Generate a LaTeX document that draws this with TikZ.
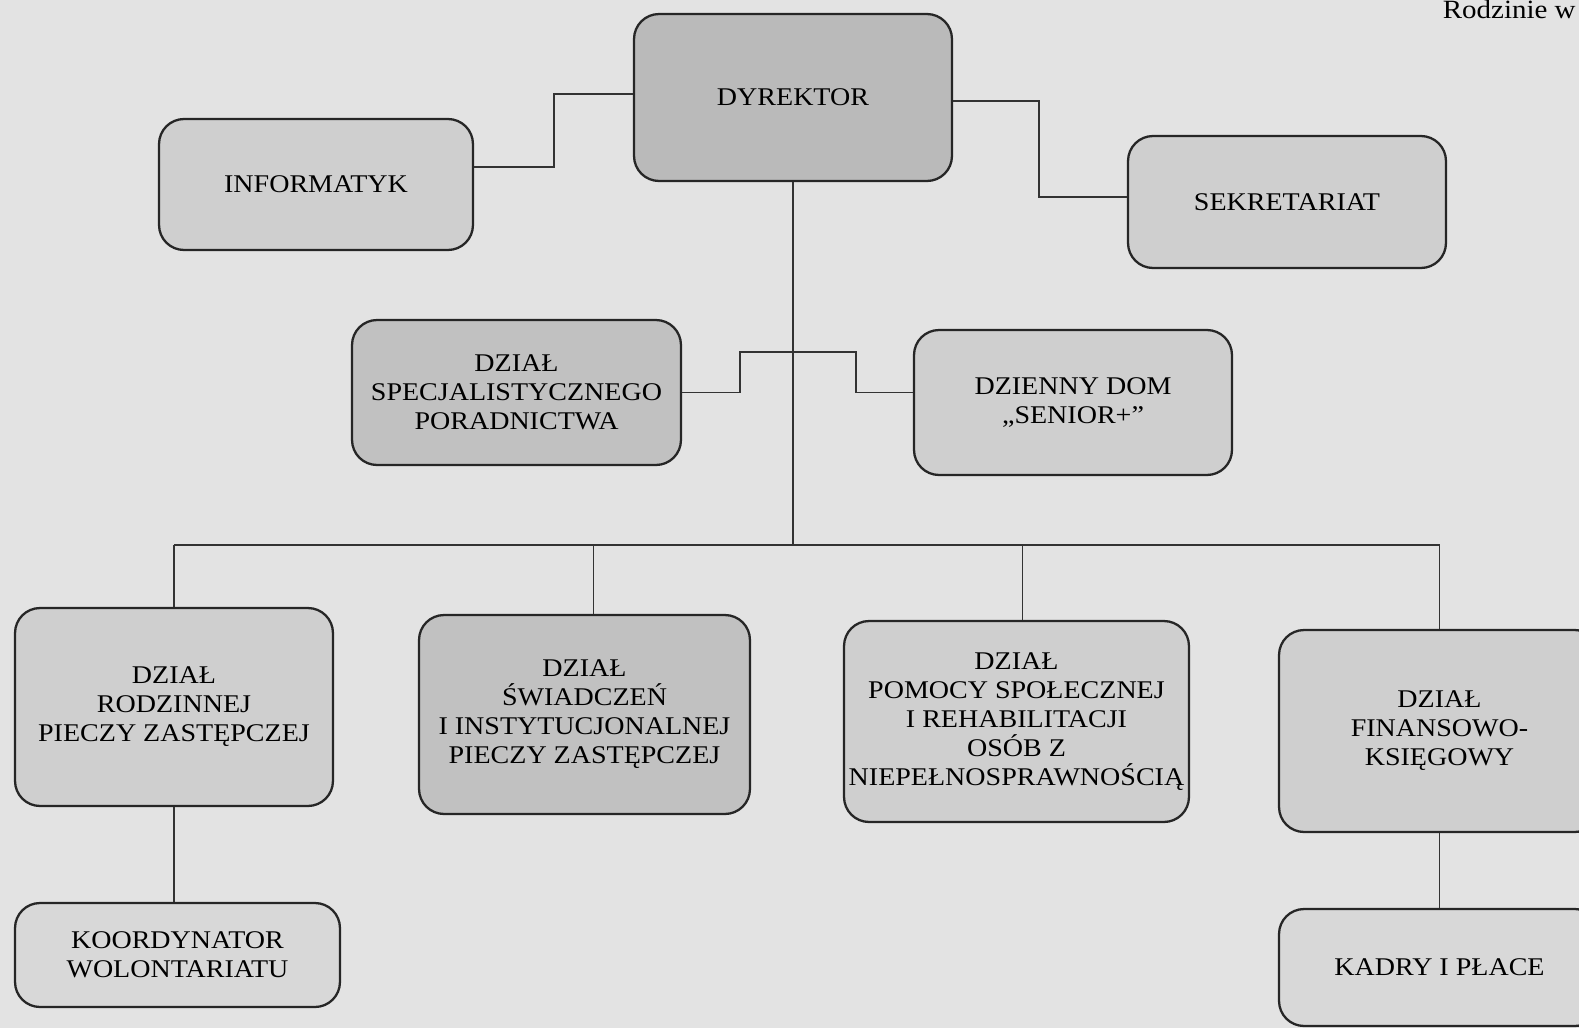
\documentclass[tikz,border=0pt]{standalone}
\usepackage{fontspec}
\setmainfont{Liberation Serif}[FakeStretch=1.1]
\definecolor{bgc}{gray}{0.89}
\definecolor{boxc}{gray}{0.81}
\definecolor{boxd}{gray}{0.73}
\begin{document}
\begin{tikzpicture}[x=0.02cm,y=-0.02cm,
  box/.style={draw=black!85, line width=1.3pt, rounded corners=0.5cm, fill=boxc,
    align=center, font=\fontsize{14.5}{16.5}\selectfont, inner sep=0pt},
  conn/.style={draw=black!80, line width=0.7pt}]
\useasboundingbox (0,0) rectangle (1579,1028);
\fill[bgc] (0,0) rectangle (1579,1028);
\node[anchor=base east, font=\fontsize{15}{17}\selectfont, inner sep=0pt] (hdr) at (1576,18) {Rodzinie w};
% boxes
\node[box, fill=boxd, minimum width=6.36cm, minimum height=3.34cm] (dyr) at (793,97.5) {DYREKTOR};
\node[box, minimum width=6.28cm, minimum height=2.62cm] (inf) at (316,184.5) {INFORMATYK};
\node[box, minimum width=6.36cm, minimum height=2.64cm] (sek) at (1287,202) {SEKRETARIAT};
\node[box, fill=boxd!90, minimum width=6.58cm, minimum height=2.90cm] (spec) at (516.5,392.5) {DZIAŁ\\SPECJALISTYCZNEGO\\PORADNICTWA};
\node[box, minimum width=6.36cm, minimum height=2.90cm] (dom) at (1073,402.5) {DZIENNY DOM\\„SENIOR+”};
\node[box, minimum width=6.36cm, minimum height=3.96cm] (rodz) at (174,707) {DZIAŁ\\RODZINNEJ\\PIECZY ZASTĘPCZEJ};
\node[box, fill=boxd!90, minimum width=6.62cm, minimum height=3.98cm] (swiad) at (584.5,714.5) {DZIAŁ\\ŚWIADCZEŃ\\I INSTYTUCJONALNEJ\\PIECZY ZASTĘPCZEJ};
\node[box, minimum width=6.90cm, minimum height=4.02cm] (pomoc) at (1016.5,721.5) {DZIAŁ\\POMOCY SPOŁECZNEJ\\I REHABILITACJI\\OSÓB Z\\NIEPEŁNOSPRAWNOŚCIĄ};
\node[box, minimum width=6.42cm, minimum height=4.04cm] (fin) at (1439.5,731) {DZIAŁ\\FINANSOWO-\\KSIĘGOWY};
\node[box, fill=boxc!80, minimum width=6.50cm, minimum height=2.08cm] (koord) at (177.5,955) {KOORDYNATOR\\WOLONTARIATU};
\node[box, fill=boxc!80, minimum width=6.42cm, minimum height=2.34cm] (kadry) at (1439.5,967.5) {KADRY I PŁACE};
% connector coordinates
\coordinate (i1) at (554,94);
\coordinate (i2) at (554,167);
\coordinate (s1) at (1039,101);
\coordinate (s2) at (1039,197);
\coordinate (bus) at (793,545);
\coordinate (b1) at (740,352);
\coordinate (b2) at (856,352);
\coordinate (d2) at ([xshift=0.18cm]swiad.north);
\coordinate (d3) at ([xshift=0.12cm]pomoc.north);
% connectors
\draw[conn] (dyr.west|-i1) -- (i1) -- (i2) -- (inf.east|-i2);
\draw[conn] (dyr.east|-s1) -- (s1) -- (s2) -- (sek.west|-s2);
\draw[conn] (dyr.south) -- (bus);
\draw[conn] (rodz.north|-bus) -- (fin.north|-bus);
\draw[conn] (rodz.north) -- (rodz.north|-bus);
\draw[conn] (d2) -- (d2|-bus);
\draw[conn] (d3) -- (d3|-bus);
\draw[conn] (fin.north) -- (fin.north|-bus);
\draw[conn] (spec.east) -| (b1) -| (b2|-spec.east) -- (dom.west|-spec.east);
\draw[conn] (rodz.south) -- (rodz.south|-koord.north);
\draw[conn] (fin.south) -- (fin.south|-kadry.north);
\end{tikzpicture}
\end{document}
